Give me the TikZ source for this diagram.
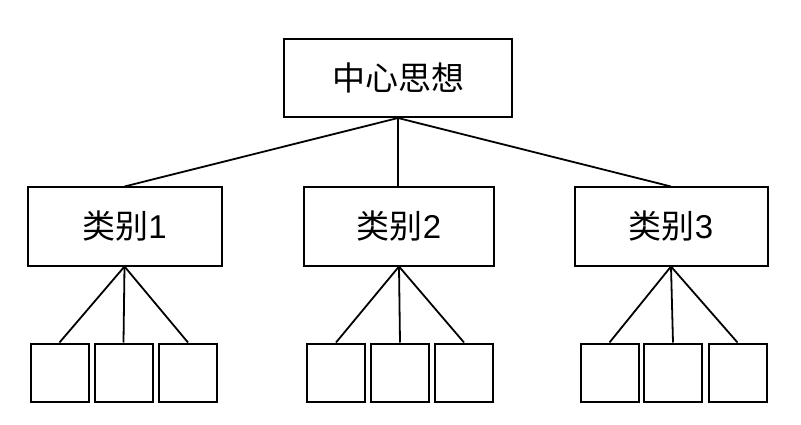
\documentclass[tikz,border=0pt]{standalone}
\usepackage{fontspec}
\setmainfont{Liberation Sans}
\newfontfamily\cjk{Noto Sans CJK SC}
\begin{document}
\begin{tikzpicture}[x=1pt,y=-1pt,
  box/.style={draw=black,line width=2pt,fill=white,inner sep=0pt,font=\fontsize{33}{38}\selectfont},
  leaf/.style={draw=black,line width=2pt,fill=white,inner sep=0pt,minimum width=58pt,minimum height=58pt},
  conn/.style={draw=black,line width=1.8pt}]
\useasboundingbox (0,0) rectangle (801,425);
\node[box,minimum width=228pt,minimum height=78pt] (top) at (398,78) {\cjk 中心思想};
\node[box,minimum width=194pt,minimum height=78pt] (c1) at (124.5,226.5) {{\cjk 类别}1};
\node[box,minimum width=190pt,minimum height=78pt] (c2) at (399,226.5) {{\cjk 类别}2};
\node[box,minimum width=193pt,minimum height=78pt] (c3) at (671,226.5) {{\cjk 类别}3};
\node[leaf] (l11) at (59.5,372.5) {};
\node[leaf] (l12) at (123.5,372.5) {};
\node[leaf] (l13) at (188,372.5) {};
\node[leaf] (l21) at (336,372.5) {};
\node[leaf] (l22) at (400,372.5) {};
\node[leaf] (l23) at (464,372.5) {};
\node[leaf] (l31) at (609.5,372.5) {};
\node[leaf] (l32) at (673,372.5) {};
\node[leaf] (l33) at (737.5,372.5) {};
\draw[conn] (top.south) -- (c1.north);
\draw[conn] (top.south) -- (c2.north -| top.south);
\draw[conn] (top.south) -- (c3.north);
\foreach \c in {1,2,3}{
  \draw[conn] (c\c.south) -- (l\c1.north);
  \draw[conn] (c\c.south) -- (l\c2.north);
  \draw[conn] (c\c.south) -- (l\c3.north);
}
\end{tikzpicture}
\end{document}
